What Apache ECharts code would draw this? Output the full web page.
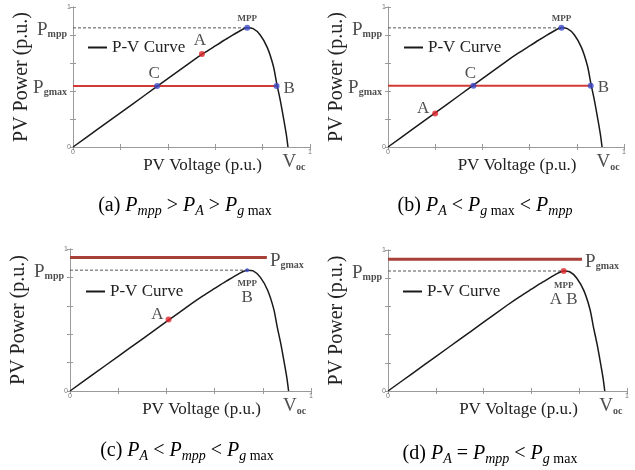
<!DOCTYPE html>
<html>
<head>
<meta charset="utf-8">
<script src="https://cdn.jsdelivr.net/npm/echarts@6/dist/echarts.min.js"></script>
<style>
  html, body { margin: 0; padding: 0; background: #fff; }
  #main { width: 635px; height: 470px; }
</style>
</head>
<body>
<div id="main"></div>
<script>
// P-V curve (p.u.)
const pvVoltage = [0, 0.1, 0.2, 0.3, 0.4, 0.5, 0.55, 0.6, 0.65, 0.7, 0.735, 0.76, 0.79, 0.82, 0.845, 0.86, 0.875, 0.89, 0.9, 0.907]
const pvPower = [0, 0.122, 0.244, 0.366, 0.488, 0.61, 0.668, 0.722, 0.775, 0.825, 0.851, 0.846, 0.8, 0.71, 0.58, 0.45, 0.33, 0.19, 0.09, 0]
const vocValue = 0.907

// one entry per panel: (a) (b) (c) (d)
const pgmaxLevel = [0.435, 0.437, 0.94, 0.934]
const pgmaxEnd = [0.859, 0.859, 0.817, 0.812]
const mppPoint = [0.735, 0.851]
const pointA = [[0.544, 0.665], [0.2, 0.24], [0.409, 0.504], [0.735, 0.851]]
const pointB = [[0.859, 0.435], [0.859, 0.437], null, null]
const pointC = [[0.355, 0.435], [0.362, 0.437], null, null]

const SERIF = 'Liberation Serif'
const grids = [
  { left: 73, top: 7, width: 237, height: 140 },
  { left: 388, top: 7, width: 236, height: 140 },
  { left: 70, top: 249, width: 241, height: 142 },
  { left: 388, top: 250, width: 239, height: 141 }
]

const subRich = {
  P: { fontFamily: SERIF, fontSize: 19, color: '#222', verticalAlign: 'bottom' },
  s: { fontFamily: SERIF, fontSize: 10, fontWeight: 'bold', color: '#222', verticalAlign: 'bottom' },
  m: { fontFamily: SERIF, fontSize: 9, fontWeight: 'bold', color: '#222', lineHeight: 11 },
  L: { fontFamily: SERIF, fontSize: 17, color: '#222', lineHeight: 17 }
}

function axes (i) {
  const base = {
    gridIndex: i,
    type: 'value',
    min: 0,
    max: 1,
    interval: 0.2,
    axisLine: { lineStyle: { color: '#9a9a9a', width: 1 } },
    axisTick: { inside: true, length: 3, lineStyle: { color: '#9a9a9a' } },
    splitLine: { show: false }
  }
  const tickLabel = {
    fontSize: 7,
    color: '#777',
    margin: 2,
    formatter: v => (Math.abs(v) < 1e-6 ? '0' : Math.abs(v - 1) < 1e-6 ? '1' : '')
  }
  return {
    x: [
      Object.assign({}, base, {
        position: 'bottom',
        axisLabel: tickLabel,
        name: 'PV Voltage (p.u.)',
        nameLocation: 'middle',
        nameGap: 8,
        nameTextStyle: { fontFamily: SERIF, fontSize: 17, color: '#222', padding: [0, 0, 0, 22] }
      }),
      Object.assign({}, base, { position: 'top', axisLabel: { show: false } })
    ],
    y: [
      Object.assign({}, base, {
        position: 'left',
        axisLabel: tickLabel,
        name: 'PV Power (p.u.)',
        nameLocation: 'middle',
        nameGap: 41,
        nameTextStyle: { fontFamily: SERIF, fontSize: 20, color: '#222' }
      }),
      Object.assign({}, base, { position: 'right', axisLabel: { show: false } })
    ]
  }
}

const xAxis = []
const yAxis = []
const series = []
const legend = []
const legendPos = [
  { left: 83, top: 34 },
  { left: 399, top: 34 },
  { left: 81, top: 278 },
  { left: 398, top: 278 }
]

function txt (v, text, position, offset) {
  return { value: v, label: { show: true, formatter: text, position: position, offset: offset || [0, 0], rich: subRich } }
}

for (let i = 0; i < 4; i++) {
  const ax = axes(i)
  xAxis.push(ax.x[0], ax.x[1])
  yAxis.push(ax.y[0], ax.y[1])
  const xi = i * 2
  const yi = i * 2

  series.push({
    name: 'P-V Curve',
    type: 'line',
    xAxisIndex: xi,
    yAxisIndex: yi,
    data: pvVoltage.map((v, k) => [v, pvPower[k]]),
    smooth: 0.3,
    symbol: 'none',
    lineStyle: { color: '#1a1a1a', width: 1.5 },
    itemStyle: { color: '#1a1a1a' },
    z: 3
  })

  // Pmpp dashed reference
  series.push({
    type: 'line',
    xAxisIndex: xi,
    yAxisIndex: yi,
    data: [[0, mppPoint[1]], [mppPoint[0], mppPoint[1]]],
    symbol: 'none',
    lineStyle: { color: '#555', width: 1, type: [3, 2] },
    z: 2
  })

  // Pgmax red line
  const big = i >= 2
  series.push({
    type: 'line',
    xAxisIndex: xi,
    yAxisIndex: yi,
    data: [[0, pgmaxLevel[i]], [pgmaxEnd[i], pgmaxLevel[i]]],
    symbol: 'none',
    lineStyle: { color: big ? '#a8403a' : '#d23b35', width: big ? 3 : 2 },
    z: 2
  })

  // operating points
  const pts = []
  const blue = '#3c4bc8'
  const red = '#e0262a'
  if (i === 0 || i === 1) {
    pts.push({ value: pointA[i], itemStyle: { color: red }, label: { show: true, formatter: '{L|A}', position: i === 0 ? 'top' : 'left', offset: i === 0 ? [-2, 3] : [2, -5], rich: subRich } })
    pts.push({ value: pointC[i], itemStyle: { color: blue }, label: { show: true, formatter: '{L|C}', position: 'top', offset: [-3, 4], rich: subRich } })
    pts.push({ value: pointB[i], itemStyle: { color: blue }, label: { show: true, formatter: '{L|B}', position: 'right', offset: [-1, 2], rich: subRich } })
    pts.push({ value: mppPoint, itemStyle: { color: blue }, label: { show: true, formatter: '{m|MPP}', position: 'top', offset: [0, 4], rich: subRich } })
  } else if (i === 2) {
    pts.push({ value: pointA[i], itemStyle: { color: red }, label: { show: true, formatter: '{L|A}', position: 'left', offset: [3, -5], rich: subRich } })
    pts.push({ value: mppPoint, symbolSize: 4, itemStyle: { color: blue }, label: { show: true, formatter: '{m|MPP}\n{L|B}', position: 'bottom', offset: [0, 1], rich: subRich } })
  } else {
    pts.push({ value: pointA[i], itemStyle: { color: red }, label: { show: true, formatter: '{m|MPP}\n{L|A B}', position: 'bottom', offset: [0, 1], rich: subRich } })
  }
  series.push({
    type: 'scatter',
    xAxisIndex: xi,
    yAxisIndex: yi,
    symbolSize: 6,
    data: pts,
    z: 5
  })

  // axis-side texts
  const texts = [
    txt([0, mppPoint[1]], '{P|P}{s|mpp}', 'left', [-1, 2]),
    txt([vocValue, 0], '{P|V}{s|oc}', 'bottom', [6, 1])
  ]
  if (big) texts.push(txt([pgmaxEnd[i], pgmaxLevel[i]], '{P|P}{s|gmax}', 'right', [-2, 3]))
  else texts.push(txt([0, pgmaxLevel[i]], '{P|P}{s|gmax}', 'left', [-1, 2]))
  series.push({
    type: 'scatter',
    xAxisIndex: xi,
    yAxisIndex: yi,
    symbolSize: 0,
    data: texts,
    silent: true,
    z: 6
  })

  legend.push(Object.assign({
    data: ['P-V Curve'],
    icon: 'rect',
    itemWidth: 19,
    itemHeight: 2,
    itemGap: 5,
    textStyle: { fontFamily: SERIF, fontSize: 17, color: '#222' }
  }, legendPos[i]))
}

// captions
const capRich = {
  r: { fontFamily: SERIF, fontSize: 20, color: '#111', verticalAlign: 'bottom', padding: [0, 0, 3, 0] },
  i: { fontFamily: SERIF, fontSize: 20, fontStyle: 'italic', color: '#111', verticalAlign: 'bottom', padding: [0, 0, 3, 0] },
  si: { fontFamily: SERIF, fontSize: 14, fontStyle: 'italic', color: '#111', verticalAlign: 'bottom' },
  sr: { fontFamily: SERIF, fontSize: 14, color: '#111', verticalAlign: 'bottom' }
}
const captions = [
  { x: 185, y: 207, text: '{r|(a) }{i|P}{si|mpp}{r| > }{i|P}{si|A}{r| > }{i|P}{si|g}{sr| max}' },
  { x: 485, y: 207, text: '{r|(b) }{i|P}{si|A}{r| < }{i|P}{si|g}{sr| max}{r| < }{i|P}{si|mpp}' },
  { x: 187, y: 452, text: '{r|(c) }{i|P}{si|A}{r| < }{i|P}{si|mpp}{r| < }{i|P}{si|g}{sr| max}' },
  { x: 490, y: 455, text: '{r|(d) }{i|P}{si|A}{r| = }{i|P}{si|mpp}{r| < }{i|P}{si|g}{sr| max}' }
]

const chart = echarts.init(document.getElementById('main'))
chart.setOption({
  backgroundColor: '#fff',
  animation: false,
  grid: grids,
  xAxis: xAxis,
  yAxis: yAxis,
  legend: legend,
  series: series,
  graphic: captions.map(c => ({
    type: 'text',
    x: c.x,
    y: c.y,
    style: { text: c.text, rich: capRich, textAlign: 'center', textVerticalAlign: 'middle' }
  }))
})
</script>
</body>
</html>
